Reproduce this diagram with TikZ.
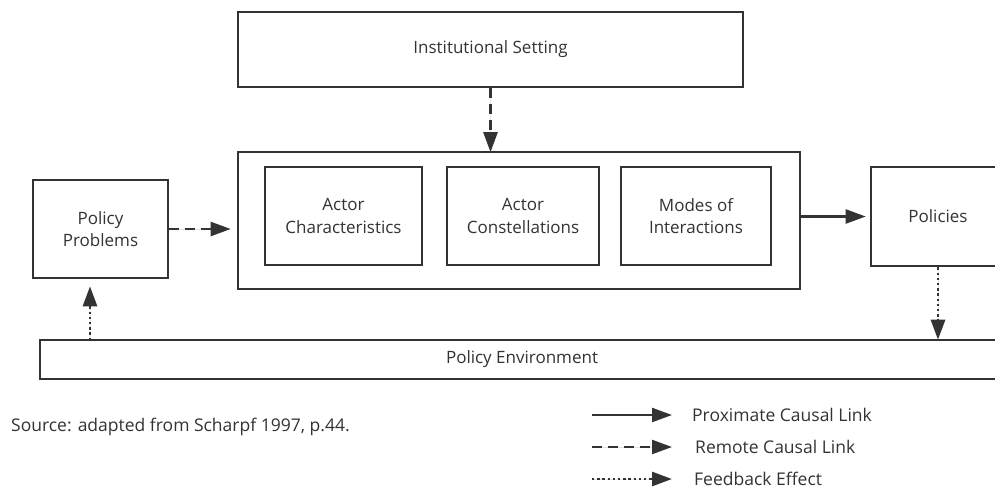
\documentclass[tikz,border=0pt]{standalone}
\usepackage{fontspec}
\setmainfont{Open Sans}
\usetikzlibrary{arrows.meta}
\definecolor{ink}{HTML}{333333}
\tikzset{
  box/.style={draw=ink, line width=2.6pt, fill=white, inner sep=0pt, align=center, text=ink, font=\fontsize{17}{22.5}\selectfont},
  tip/.style={-{Triangle[length=20pt,width=14pt]}, draw=ink, fill=ink, line width=2.4pt},
  proximate/.style={tip},
  remote/.style={tip, dash pattern=on 10pt off 6pt},
  feedback/.style={tip, line width=2.8pt, dash pattern=on 2.4pt off 2.8pt},
  lbl/.style={text=ink, font=\fontsize{17.5}{21}\selectfont, anchor=west, inner sep=0pt}
}
\begin{document}
\begin{tikzpicture}[x=1pt,y=-1pt]
\useasboundingbox (0,0) rectangle (995,488);
\clip (0,0) rectangle (995,488);
% main boxes
\node[box, minimum width=505pt, minimum height=75pt] (inst) at (490.5,49.5) {\raisebox{-2pt}{Institutional Setting}};
\node[box, minimum width=562pt, minimum height=137pt] (core) at (519,220.5) {};
\node[box, minimum width=157pt, minimum height=98pt] (char) at (343.5,216) {Actor\\Characteristics};
\node[box, minimum width=152pt, minimum height=98pt] (const) at (523,216) {Actor\\Constellations};
\node[box, minimum width=150pt, minimum height=98pt] (modes) at (696,216) {Modes of\\Interactions};
\node[box, minimum width=135pt, minimum height=98pt] (prob) at (100.5,229) {Policy\\Problems};
\node[box, minimum width=134pt, minimum height=99pt] (pol) at (938,216.5) {\raisebox{-2pt}{Policies}};
\node[box, minimum width=964pt, minimum height=39pt] (env) at (522,359.5) {\raisebox{-2pt}{Policy Environment}};
% connectors
\draw[remote] (inst.south) -- ([yshift=-1.5pt]inst.south |- core.north);
\draw[remote] (prob.east) -- ([xshift=-6pt]prob.east -| core.west);
\draw[proximate] (core.east |- pol.west) -- ([xshift=-4pt]pol.west);
\draw[feedback] (pol.south) -- ([yshift=-1pt]pol.south |- env.north);
\coordinate (envup) at (90,340);
\draw[feedback] (envup) -- ([yshift=-7pt]envup |- prob.south);
% source note
\node[lbl] (src) at (11,427) {Source: adapted from Scharpf 1997, p.44.};
% legend
\coordinate (l1) at (592,415); \coordinate (l1e) at (672,415);
\coordinate (l2) at (592,447); \coordinate (l2e) at (672,447);
\coordinate (l3) at (592,479); \coordinate (l3e) at (672,479);
\draw[proximate] (l1) -- (l1e);
\draw[remote] (l2) -- (l2e);
\draw[feedback] (l3) -- (l3e);
\node[lbl] (t1) at (692,415) {Proximate Causal Link};
\node[lbl] (t2) at (695,447) {Remote Causal Link};
\node[lbl] (t3) at (694,479) {Feedback Effect};
\end{tikzpicture}
\end{document}
